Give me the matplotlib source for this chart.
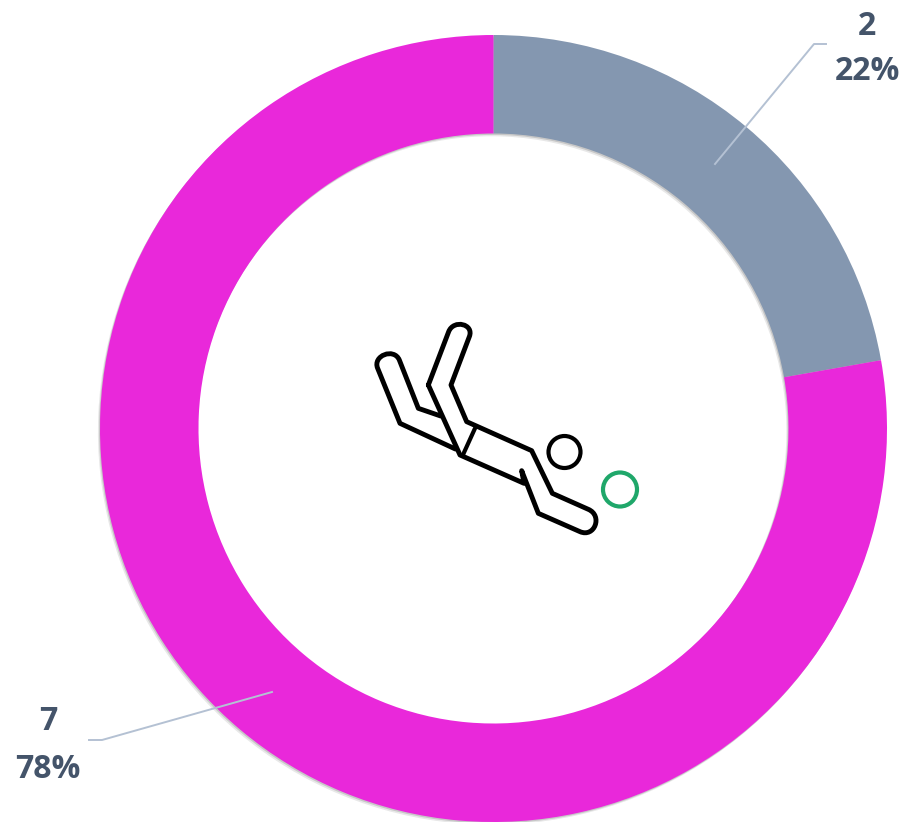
import matplotlib
matplotlib.use("Agg")
import matplotlib.pyplot as plt
import matplotlib.patheffects as pe
from matplotlib.patches import Circle, PathPatch
from matplotlib.path import Path

counts = [2, 7]
percents = ["22%", "78%"]
colors = ["#8497B0", "#E928DA"]

W, H = 902, 822
TEXT_COLOR = "#44546A"
LINE_COLOR = "#B4C1D3"


def flip(pts):
    # picture pixels -> axes coords (y goes up)
    return [p[0] for p in pts], [H - p[1] for p in pts]


def icon_patch(pts, codes, lw=3.5):
    # icon was traced on a 3x crop starting at (350, 300)
    verts = [(350 + x / 3, H - (300 + y / 3)) for x, y in pts]
    return PathPatch(Path(verts, codes), fill=False, ec="black", lw=lw,
                     capstyle="round", joinstyle="round", zorder=4)


fig = plt.figure(figsize=(W / 100, H / 100), dpi=100)
ax = fig.add_axes([0, 0, 1, 1])

wedges, _ = ax.pie(counts, colors=colors, startangle=90, counterclock=False,
                   center=(493.5, H - 428.5), radius=393.5,
                   wedgeprops=dict(width=98.5, linewidth=0))
for w in wedges:
    w.set_path_effects([pe.SimplePatchShadow(offset=(-1.5, -2), alpha=0.12, shadow_rgbFace="#444444"),
                        pe.SimplePatchShadow(offset=(-0.7, -1), alpha=0.2, shadow_rgbFace="#444444"),
                        pe.Normal()])

ax.set_xlim(0, W)
ax.set_ylim(0, H)
ax.set_aspect("equal")
ax.axis("off")

# leader lines
x, y = flip([(715, 164), (814, 44), (826, 44)])
ax.plot(x, y, color=LINE_COLOR, lw=1.4, zorder=3)
x, y = flip([(272, 692), (102, 740), (89, 740)])
ax.plot(x, y, color=LINE_COLOR, lw=1.4, zorder=3)

# labels
font = dict(family=["Open Sans", "DejaVu Sans"], fontweight="bold", fontsize=23,
            color=TEXT_COLOR, ha="center", va="center")
ax.text(867, H - 26.5, str(counts[0]), **font)
ax.text(867, H - 71.5, percents[0], **font)
ax.text(48, H - 722, str(counts[1]), **font)
ax.text(48, H - 769, percents[1], **font)

# falling figure in the middle
M, L, C = Path.MOVETO, Path.LINETO, Path.CURVE4
outline = [(235, 255), (296, 95), (311, 57), (373, 72), (358, 110), (303, 255),
           (350, 365), (545, 452), (607, 580), (715, 628), (759, 647), (734, 714), (690, 695),
           (565, 640), (515, 512), (522, 550), (330, 465), (235, 255)]
outline_codes = [M, L, C, C, C, L, L, L, L, L, C, C, C, L, L, L, L, L]
back_leg = [(272, 348), (205, 325), (148, 180), (132, 142), (67, 167), (83, 205),
            (150, 370), (316, 447)]
back_codes = [M, L, L, C, C, C, L, L]
waist = [(375, 385), (340, 462)]

ax.add_patch(icon_patch(outline, outline_codes))
ax.add_patch(icon_patch(back_leg, back_codes))
ax.add_patch(icon_patch(waist, [M, L], lw=3.0))

ax.add_patch(Circle((564.5, H - 452), 16, fill=False, ec="black", lw=3.0, zorder=4))
ax.add_patch(Circle((620, H - 489.5), 17, fill=False, ec="#1FA76A", lw=3.0, zorder=4))

fig.savefig("out.png", dpi=100)
